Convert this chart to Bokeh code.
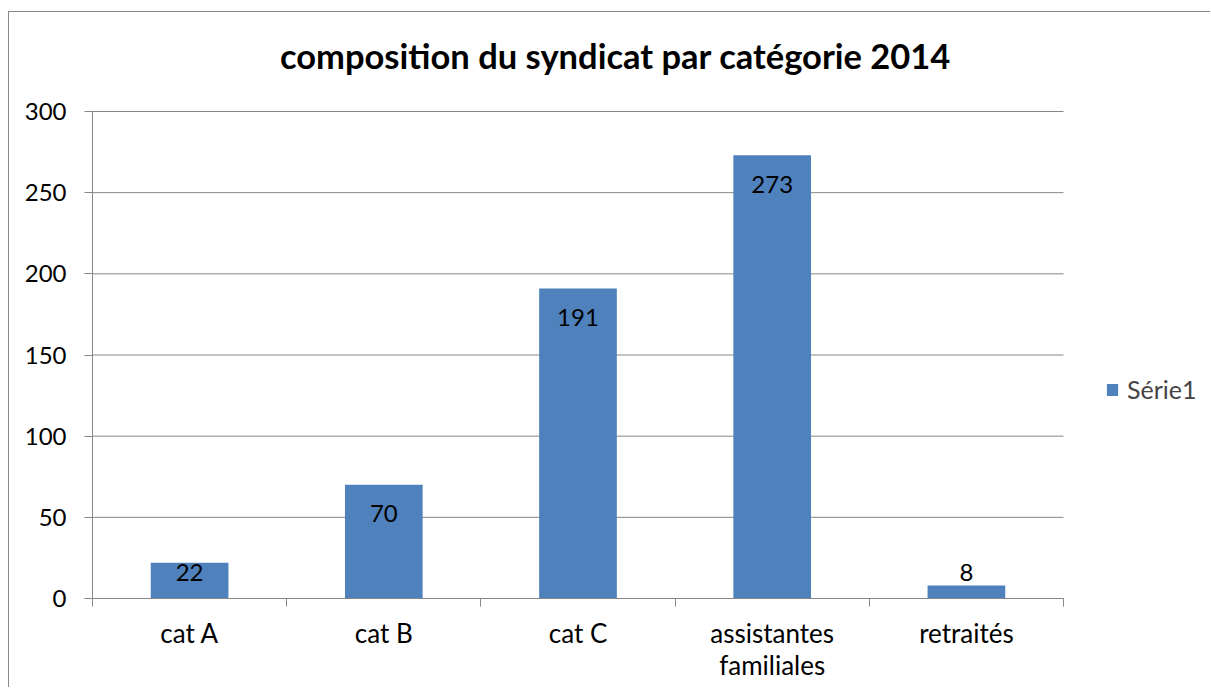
from bokeh.plotting import figure
from bokeh.models import Range1d, FixedTicker, Legend, LegendItem, ColumnDataSource, Label
from bokeh.core.properties import value
from bokeh.embed import file_html
from bokeh.resources import INLINE

categories = ["cat A", "cat B", "cat C", "assistantes\nfamiliales", "retraités"]
values = [22, 70, 191, 273, 8]
series_name = "Série1"
y_ticks = [0, 50, 100, 150, 200, 250, 300]
title_text = "composition du syndicat par catégorie 2014"

FONT = "Lato"
BLUE = "#4F81BD"
GREY = "#868686"

OFF_X, OFF_Y = 9, 12     # chart-area border (8px / 11px) + 1px line
W, H = 1202, 676
B_LEFT, B_TOP, B_BOTTOM = 92 - OFF_X, 0, 90
PLOT_W = 971            # width of the category area inside the frame
PLOT_H = 487            # height of the 0..300 value area inside the frame
frame_w = W - B_LEFT     # frame runs to the right edge (legend lives there)
frame_h = H - B_TOP - B_BOTTOM   # frame runs up to the top (title lives there)
y_max = y_ticks[-1]
px_per_unit = PLOT_H / y_max

n = len(categories)
xs = [i + 0.5 for i in range(n)]
x_end = n * frame_w / PLOT_W
y_end = y_max * frame_h / PLOT_H
label_offsets = [min(29, v * px_per_unit - 26) for v in values]

src = ColumnDataSource(dict(x=xs, top=values, label=[str(v) for v in values], yoff=label_offsets))
grid_src = ColumnDataSource(dict(x0=[0] * len(y_ticks), x1=[n] * len(y_ticks), y=y_ticks))

p = figure(width=W, height=H, output_backend="svg", toolbar_location=None,
           x_range=Range1d(0, x_end), y_range=Range1d(0, y_end),
           min_border_left=B_LEFT, min_border_right=0,
           min_border_top=B_TOP, min_border_bottom=B_BOTTOM)
p.styles = {"margin-left": "8px", "margin-top": "11px",
            "border-left": "1px solid #888888", "border-top": "1px solid #888888"}
p.outline_line_color = None
p.background_fill_color = "white"
p.border_fill_color = "white"

# chart title (centred on the chart area)
p.add_layout(Label(x=523, y=543, x_units="screen", y_units="screen",
                   text=title_text, text_align="center", text_baseline="alphabetic",
                   text_font=FONT, text_font_size="34.5px", text_font_style="bold",
                   text_color="black"))

# horizontal grid lines limited to the category area
p.segment(x0="x0", x1="x1", y0="y", y1="y", source=grid_src, line_color=GREY, line_width=1)

bars = p.vbar(x="x", top="top", width=0.4, source=src, fill_color=BLUE, line_color=None)
p.text(x="x", y="top", text="label", y_offset="yoff", source=src,
       text_align="center", text_baseline="middle",
       text_font=value(FONT), text_font_size="24px", text_color="black")

# x axis
xa = p.xaxis[0]
xa.bounds = (0, n)
xa.ticker = FixedTicker(ticks=xs, minor_ticks=list(range(n + 1)))
xa.major_label_overrides = {x: c for x, c in zip(xs, categories)}
xa.major_tick_out = 0
xa.major_tick_in = 0
xa.minor_tick_out = 8
xa.minor_tick_in = 0
xa.minor_tick_line_color = GREY
xa.axis_line_color = GREY
xa.major_label_text_font = FONT
xa.major_label_text_font_size = "26px"
xa.major_label_text_color = "black"
xa.major_label_text_line_height = 1.0
xa.major_label_standoff = 10
p.xgrid.grid_line_color = None
p.ygrid.grid_line_color = None

# y axis
ya = p.yaxis[0]
ya.bounds = (0, y_max)
ya.ticker = FixedTicker(ticks=y_ticks)
ya.major_tick_out = 8
ya.major_tick_in = 0
ya.minor_tick_out = 0
ya.minor_tick_in = 0
ya.major_tick_line_color = GREY
ya.axis_line_color = GREY
ya.major_label_text_font = FONT
ya.major_label_text_font_size = "24px"
ya.major_label_text_color = "black"
ya.major_label_standoff = 18

legend = Legend(items=[LegendItem(label=series_name, renderers=[bars])],
                location=(1013, 194), padding=0, margin=0,
                glyph_width=14, glyph_height=15, label_standoff=8,
                label_text_font=FONT, label_text_font_size="25px",
                border_line_color=None, background_fill_alpha=0)
p.add_layout(legend, "center")

open("out.html", "w").write(file_html(p, INLINE))
